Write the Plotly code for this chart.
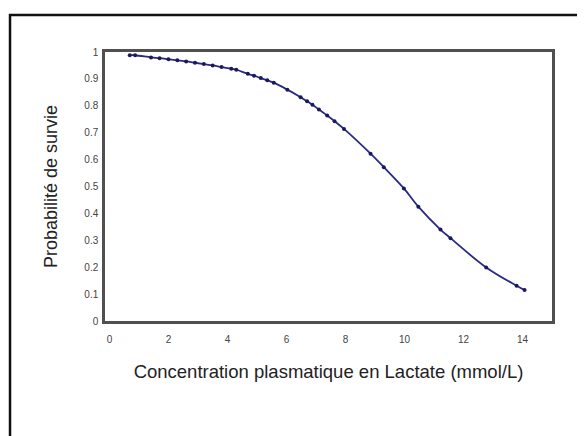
import plotly.graph_objects as go

# Lactate concentration (mmol/L) and survival probability
lactate = [0.69, 0.87, 1.41, 1.7, 2.0, 2.3, 2.6, 2.9, 3.2, 3.5, 3.8, 4.13, 4.3,
           4.69, 4.9, 5.13, 5.35, 5.57, 6.03, 6.48, 6.7, 6.88, 7.1, 7.38, 7.63,
           7.95, 8.85, 9.3, 9.98, 10.47, 11.22, 11.56, 12.77, 13.8, 14.07]
survie = [0.988, 0.988, 0.980, 0.977, 0.973, 0.969, 0.965, 0.960, 0.955, 0.950,
          0.944, 0.938, 0.934, 0.919, 0.912, 0.903, 0.895, 0.886, 0.860, 0.832,
          0.817, 0.804, 0.786, 0.764, 0.743, 0.714, 0.622, 0.572, 0.493, 0.425,
          0.340, 0.308, 0.199, 0.131, 0.115]

x_ticks = [0, 2, 4, 6, 8, 10, 12, 14]
y_ticks = [0, 0.1, 0.2, 0.3, 0.4, 0.5, 0.6, 0.7, 0.8, 0.9, 1]
y_tick_labels = ["0", "0.1", "0.2", "0.3", "0.4", "0.5", "0.6", "0.7", "0.8", "0.9", "1"]

fig = go.Figure()
fig.add_trace(go.Scatter(
    x=lactate, y=survie, mode="lines+markers",
    line=dict(color="#2a2a80", width=1.8, shape="spline"),
    marker=dict(color="#1a1a5a", size=4),
    showlegend=False,
))

font_family = "Liberation Sans, Arial, sans-serif"
fig.update_layout(
    width=585, height=436,
    margin=dict(l=97, r=41, t=44, b=123),
    paper_bgcolor="white", plot_bgcolor="white",
    font=dict(family=font_family, color="#333"),
    xaxis=dict(
        range=[-0.15, 15.0], tickvals=x_ticks, showgrid=False, zeroline=False,
        showline=True, mirror=True, linecolor="#505050", linewidth=2.5,
        ticks="", tickfont=dict(size=10, color="#444"), ticklabelstandoff=7,
        title=dict(text="Concentration plasmatique en Lactate (mmol/L)",
                   font=dict(size=18.5, color="#222"), standoff=22),
    ),
    yaxis=dict(
        range=[0, 1], tickvals=y_ticks, ticktext=y_tick_labels,
        showgrid=False, zeroline=False,
        showline=True, mirror=True, linecolor="#505050", linewidth=2.5,
        ticks="", tickfont=dict(size=10, color="#444"), ticklabelstandoff=2,
        title=dict(text="Probabilité de survie",
                   font=dict(size=18, color="#222"), standoff=23),
    ),
    shapes=[dict(type="rect", xref="paper", yref="paper",
                 x0=-0.2125, x1=1.3, y0=-0.7, y1=1.1375,
                 line=dict(color="#111", width=2.5), fillcolor="rgba(0,0,0,0)",
                 layer="below")],
)

fig.write_html("out.html", config={"displayModeBar": False})
